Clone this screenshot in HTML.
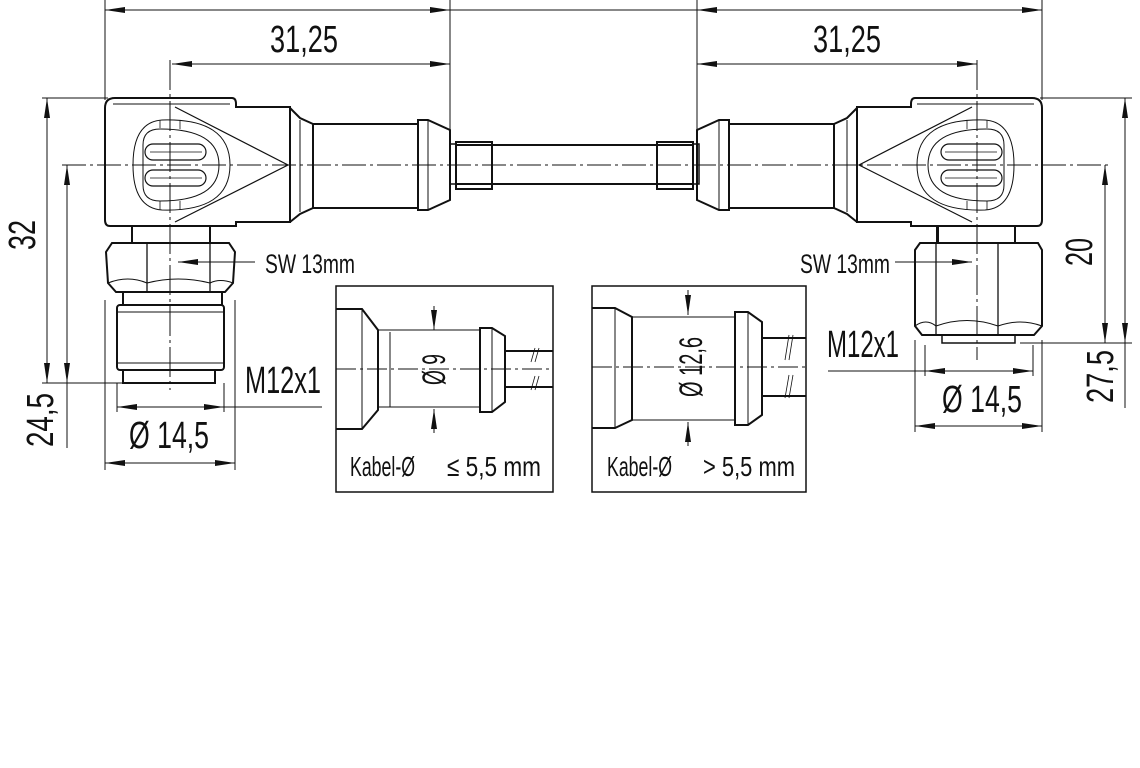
<!DOCTYPE html>
<html><head><meta charset="utf-8"><style>
html,body{margin:0;padding:0;background:#fff}
svg{display:block}
text{font-family:"Liberation Sans",sans-serif;fill:#111}
.t{font-size:38px}
.s{font-size:27px}
.b{font-size:28px}
.r{font-size:32px}
</style></head><body>
<svg width="1140" height="768" viewBox="0 0 1140 768" xmlns="http://www.w3.org/2000/svg">
<defs>
<marker id="a" viewBox="0 0 20 6" refX="20" refY="3" markerWidth="20" markerHeight="6" markerUnits="userSpaceOnUse" orient="auto-start-reverse"><path d="M0,0 L20,3 L0,6z" fill="#111"/></marker>
<g id="head" fill="none" stroke="#111" stroke-width="2">
  <path d="M105,108 Q105,98 115,98 L232,98 Q236,98 236,104 L236,107 L290,107 L290,222 L236,222 L236,226 L110,226 Q105,226 105,220 Z"/>
  <path d="M113,104 L230,104" stroke-width="1"/>
  <path d="M175,107 L288,165 L175,222" stroke-width="1.2"/>
  <path d="M290,108 L300,118 L313,124 L313,208 L300,214 L290,222" />
  <path d="M313,124 L418,124 L418,208 L313,208" />
  <path d="M300,120 L300,212" stroke-width="1"/>
  <path d="M418,120 L428,120 L450,130 L450,200 L428,210 L418,210 Z"/>
  <path d="M428,120 L428,210" stroke-width="1"/>
  <path d="M162,120 Q230,118 230,165 Q230,212 162,210 Q133,208 133,165 Q133,122 162,120 Z" stroke-width="1"/>
  <path d="M160,129 Q219,129 219,165 Q219,201 160,201 Q143,201 143,185 L143,145 Q143,129 160,129 Z" stroke-width="1"/>
  <rect x="145" y="144" width="61" height="16" rx="8" stroke-width="1.2"/>
  <rect x="145" y="170" width="61" height="16" rx="8" stroke-width="1.2"/>
  <path d="M150,152 L202,152 M150,178 L202,178" stroke-width="0.8"/>
  <path d="M160,120 L160,128 M180,120 L180,129 M160,201 L160,210 M180,201 L180,210" stroke-width="0.8"/>
  <path d="M132,226 L132,243 M210,226 L210,243" />
</g>
</defs>
<g fill="none" stroke="#111" stroke-width="1">
  <path d="M62,165 L1110,165" stroke-dasharray="24,4,3,4"/>
  <path d="M170,60 L170,390" stroke-dasharray="30,4,3,4"/>
  <path d="M977,60 L977,360" stroke-dasharray="30,4,3,4"/>
  <path d="M105,0 L105,100 M450,0 L450,140 M697,0 L697,140 M1042,0 L1042,100"/>
  <path d="M105,10 L450,10" marker-start="url(#a)" marker-end="url(#a)"/>
  <path d="M450,10 L697,10"/>
  <path d="M697,10 L1042,10" marker-start="url(#a)" marker-end="url(#a)"/>
  <path d="M172,64 L450,64" marker-start="url(#a)" marker-end="url(#a)"/>
  <path d="M697,64 L977,64" marker-start="url(#a)" marker-end="url(#a)"/>
  <path d="M42,98 L108,98 M42,383 L122,383"/>
  <path d="M47,98 L47,383" marker-start="url(#a)" marker-end="url(#a)"/>
  <path d="M67,165 L67,383" marker-start="url(#a)" marker-end="url(#a)"/>
  <path d="M67,383 L67,448"/>
  <path d="M117,383 L117,412 M224,383 L224,412 M105,300 L105,470 M235,300 L235,470"/>
  <path d="M117,407 L224,407" marker-start="url(#a)" marker-end="url(#a)"/>
  <path d="M224,407 L322,407"/>
  <path d="M105,463 L235,463" marker-start="url(#a)" marker-end="url(#a)"/>
  <path d="M255,262 L178,262" marker-end="url(#a)"/>
  <path d="M1040,98 L1132,98 M1020,343 L1132,343"/>
  <path d="M1125,98 L1125,343" marker-start="url(#a)" marker-end="url(#a)"/>
  <path d="M1125,343 L1125,408"/>
  <path d="M1105,165 L1105,343" marker-start="url(#a)" marker-end="url(#a)"/>
  <path d="M925,345 L925,376 M1033,345 L1033,376 M915,340 L915,432 M1042,340 L1042,432"/>
  <path d="M925,371 L1033,371" marker-start="url(#a)" marker-end="url(#a)"/>
  <path d="M828,371 L925,371"/>
  <path d="M915,426 L1042,426" marker-start="url(#a)" marker-end="url(#a)"/>
  <path d="M895,262 L972,262" marker-end="url(#a)"/>
</g>
<use href="#head"/>
<use href="#head" transform="translate(1147,0) scale(-1,1)"/>
<g fill="none" stroke="#111" stroke-width="2">
  <path d="M456,145 L693,145 M456,184 L693,184"/>
  <rect x="450" y="144" width="6" height="40" stroke-width="1.5"/>
  <rect x="456" y="142" width="36" height="47"/>
  <rect x="657" y="142" width="36" height="47"/>
  <rect x="693" y="144" width="6" height="40" stroke-width="1.5"/>
  <path d="M112,243 L229,243 L235,252 L233,283 L225,292 L116,292 L108,283 L106,252 Z"/>
  <path d="M147,243 L147,292 M210,243 L210,292" stroke-width="1.3"/>
  <path d="M108,283 Q128,275 147,283 Q178,275 210,283 Q220,278 233,283" stroke-width="1"/>
  <path d="M123,292 L123,305 M222,292 L222,305"/>
  <rect x="117" y="305" width="107" height="65" rx="3"/>
  <path d="M117,312 L224,312 M117,363 L224,363" stroke-width="1"/>
  <rect x="123" y="370" width="92" height="13"/>
  <path d="M938,226 L938,243 M1015,226 L1015,243"/>
  <path d="M920,243 L1038,243 L1042,250 L1042,326 L1034,335 L922,335 L915,326 L915,250 Z"/>
  <path d="M936,243 L936,335 M998,243 L998,335" stroke-width="1.3"/>
  <path d="M915,326 Q926,318 936,326 Q967,315 998,326 Q1020,318 1042,326" stroke-width="1"/>
  <rect x="942" y="335" width="73" height="8" stroke-width="1.5"/>
  <rect x="336" y="286" width="217" height="206" stroke-width="1.5"/>
  <rect x="592" y="286" width="214" height="206" stroke-width="1.5"/>
  <path d="M336,309 L362,309 L378,330 L378,410 L362,429 L336,429"/>
  <path d="M362,309 L362,429 M378,330 L480,330 M378,407 L480,407 M390,332 L390,407" stroke-width="1"/>
  <path d="M480,328 L492,328 L505,336 L505,402 L492,412 L480,412 Z"/>
  <path d="M492,328 L492,412" stroke-width="1"/>
  <path d="M505,351 L553,351 M505,387 L553,387"/>
  <path d="M535,348 L531,362 M539,348 L535,362 M535,376 L531,390 M539,376 L535,390" stroke-width="0.8"/>
  <path d="M592,308 L615,308 L632,317 L632,420 L615,428 L592,428"/>
  <path d="M615,308 L615,428 M632,317 L735,317 M632,420 L735,420" stroke-width="1"/>
  <path d="M735,312 L748,312 L762,322 L762,415 L748,425 L735,425 Z"/>
  <path d="M748,312 L748,425" stroke-width="1"/>
  <path d="M762,338 L806,338 M762,396 L806,396"/>
  <path d="M789,335 L785,360 M793,335 L789,360 M789,375 L785,398 M793,375 L789,398" stroke-width="0.8"/>
</g>
<g fill="none" stroke="#111" stroke-width="1">
  <path d="M336,369 L553,369 M592,367 L806,367" stroke-dasharray="20,4,3,4"/>
  <path d="M434,306 L434,330" marker-end="url(#a)"/>
  <path d="M434,433 L434,409" marker-end="url(#a)"/>
  <path d="M688,290 L688,315" marker-end="url(#a)"/>
  <path d="M688,446 L688,422" marker-end="url(#a)"/>
</g>
<g>
  <text class="t" x="270" y="52" textLength="68" lengthAdjust="spacingAndGlyphs">31,25</text>
  <text class="t" x="813" y="52" textLength="68" lengthAdjust="spacingAndGlyphs">31,25</text>
  <text class="t" transform="translate(35,250) rotate(-90)" textLength="30" lengthAdjust="spacingAndGlyphs">32</text>
  <text class="t" transform="translate(53,447) rotate(-90)" textLength="54" lengthAdjust="spacingAndGlyphs">24,5</text>
  <text class="t" x="129" y="448" textLength="80" lengthAdjust="spacingAndGlyphs">Ø 14,5</text>
  <text class="t" x="245" y="393" textLength="76" lengthAdjust="spacingAndGlyphs">M12x1</text>
  <text class="s" x="265" y="273" textLength="90" lengthAdjust="spacingAndGlyphs">SW 13mm</text>
  <text class="t" transform="translate(1092,266) rotate(-90)" textLength="28" lengthAdjust="spacingAndGlyphs">20</text>
  <text class="t" transform="translate(1113,403) rotate(-90)" textLength="53" lengthAdjust="spacingAndGlyphs">27,5</text>
  <text class="t" x="942" y="412" textLength="80" lengthAdjust="spacingAndGlyphs">Ø 14,5</text>
  <text class="t" x="827" y="357" textLength="72" lengthAdjust="spacingAndGlyphs">M12x1</text>
  <text class="s" x="800" y="273" textLength="90" lengthAdjust="spacingAndGlyphs">SW 13mm</text>
  <text class="r" transform="translate(445,385) rotate(-90)" textLength="31" lengthAdjust="spacingAndGlyphs">Ø 9</text>
  <text class="r" transform="translate(702,397) rotate(-90)" textLength="60" lengthAdjust="spacingAndGlyphs">Ø 12,6</text>
  <text class="b" x="350" y="476" textLength="65" lengthAdjust="spacingAndGlyphs">Kabel-Ø</text>
  <text class="b" x="447" y="476" textLength="94" lengthAdjust="spacingAndGlyphs">≤ 5,5 mm</text>
  <text class="b" x="607" y="476" textLength="65" lengthAdjust="spacingAndGlyphs">Kabel-Ø</text>
  <text class="b" x="703" y="476" textLength="92" lengthAdjust="spacingAndGlyphs">&gt; 5,5 mm</text>
</g>
</svg>
</body></html>
